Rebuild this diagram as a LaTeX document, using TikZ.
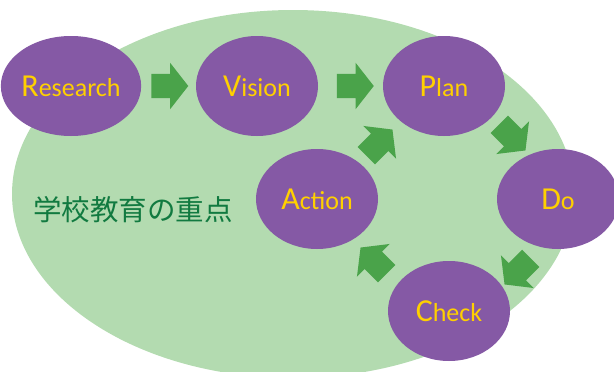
\documentclass[tikz,border=0pt]{standalone}
\usepackage{fontspec}
\setmainfont{Carlito}
\newfontfamily\cjk{Noto Sans CJK JP}
\usepackage{tikz}
\usetikzlibrary{shapes.geometric,shapes.arrows}

\definecolor{fieldgreen}{HTML}{B3DBB0}
\definecolor{stagepurple}{HTML}{8559A5}
\definecolor{stageyellow}{HTML}{FFD000}
\definecolor{flowgreen}{HTML}{4AA34A}
\definecolor{titlegreen}{HTML}{117A40}

\tikzset{
    stage/.style={ellipse, fill=stagepurple, minimum width=122pt, minimum height=100pt,
        inner sep=0pt, text=stageyellow, font=\fontsize{26}{26}\selectfont},
    flow/.style={single arrow, fill=flowgreen, minimum height=37pt, text height=12pt, text depth=12pt,
        single arrow head extend=11pt, single arrow tip angle=104, inner sep=0pt, outer sep=0pt}
}
\newcommand{\bigfirst}[2]{{\fontsize{32}{32}\selectfont #1}#2}

\begin{document}
\begin{tikzpicture}[x=1pt, y=-1pt]
    \clip (0,0) rectangle (614,372);
    % background field
    \fill[fieldgreen] (293,194) ellipse [x radius=281, y radius=184];
    \node[text=titlegreen, font=\cjk\fontsize{28.5}{28.5}\selectfont] (title) at (133,210) {学校教育の重点};

    % the stages
    \foreach \name/\x/\y/\first/\rest in {research/71/86/R/esearch, vision/257/86/V/ision,
            plan/444/86/P/lan, do/558/199/D/o, check/449/311/C/heck, action/317/199/A/ction} {
        \node[stage] (\name) at (\x,\y) {\bigfirst{\first}{\rest}};
    }

    % arrows between stages
    \node[flow] (r2v) at (165,86) {};
    \node[flow] (v2p) at (350.5,86) {};
    \node[flow, rotate=-45] (p2d) at (509,134) {};
    \node[flow, rotate=-135] (d2c) at (521,268) {};
    \node[flow, rotate=135] (c2a) at (377,264) {};
    \node[flow, rotate=45] (a2p) at (376,146) {};
\end{tikzpicture}
\end{document}
